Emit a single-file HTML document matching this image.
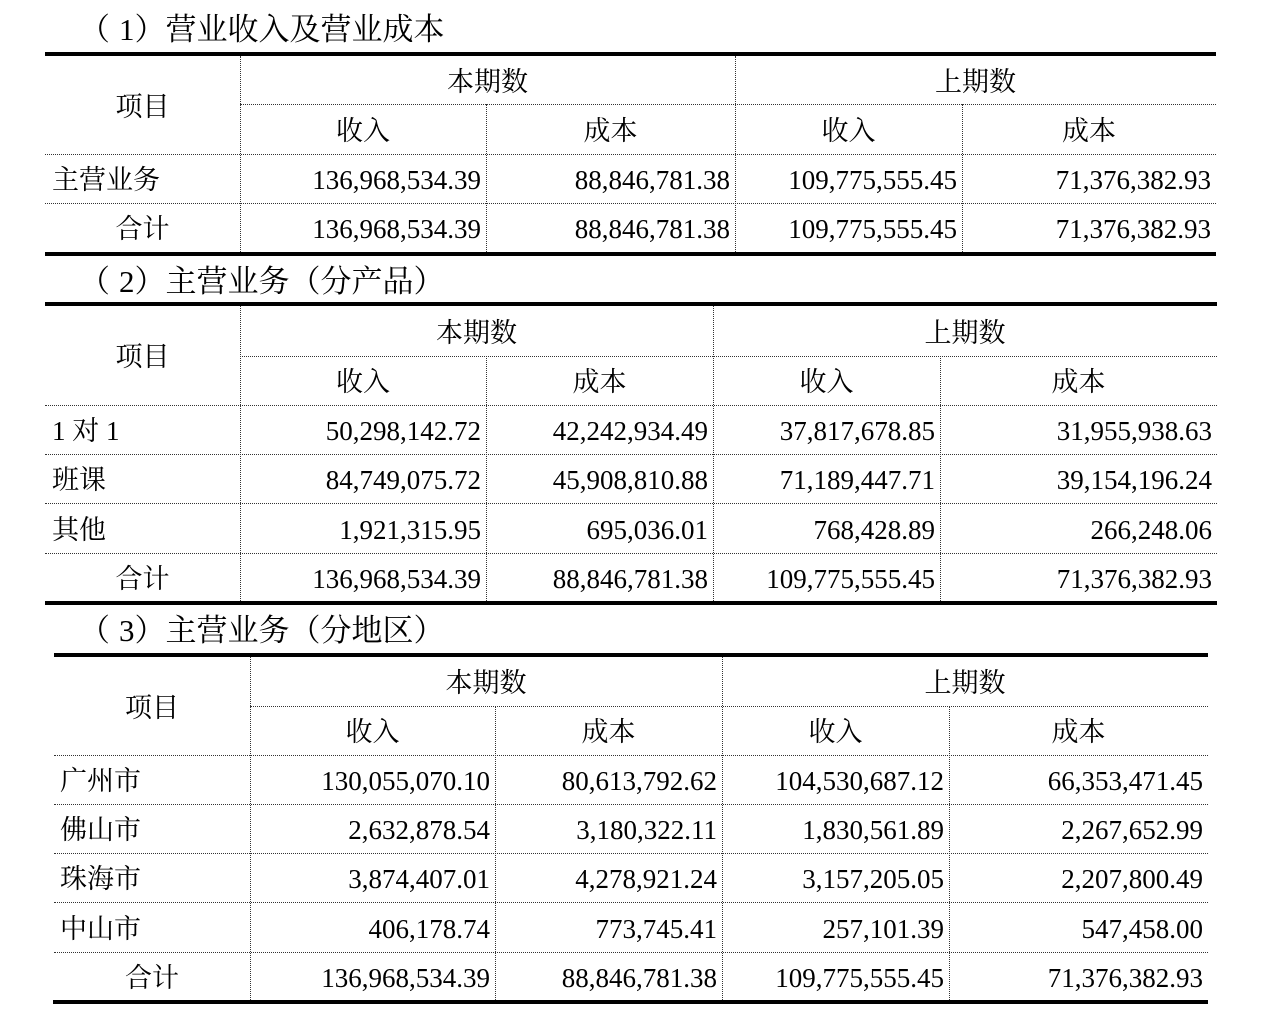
<!DOCTYPE html>
<html>
<head>
<meta charset="utf-8">
<style>
html,body{margin:0;padding:0;background:#fff;}
body{width:1268px;height:1010px;position:relative;overflow:hidden;font-family:"Liberation Serif","Noto Serif CJK SC",serif;color:#000;}
.h{position:absolute;height:0;border-top:1px dotted #333;}
.v{position:absolute;width:0;border-left:1px dotted #333;}
.t{position:absolute;background:#000;height:4px;}
.c{position:absolute;white-space:nowrap;font-size:27px;text-align:center;}
.r{text-align:right;}
.l{text-align:left;}
.ti{position:absolute;white-space:nowrap;font-size:31px;height:40px;line-height:40px;left:88px;}
.ti .p{position:relative;left:-9px;}
</style>
</head>
<body>

<!-- ========== Title 1 ========== -->
<div class="ti" style="top:10px;"><span class="p">（</span>1）营业收入及营业成本</div>

<!-- Table 1 lines -->
<div class="t" style="left:45px;width:1171px;top:52px;"></div>
<div class="t" style="left:45px;width:1171px;top:252px;"></div>
<div class="h" style="left:240px;width:976px;top:104px;"></div>
<div class="h" style="left:45px;width:1171px;top:154px;"></div>
<div class="h" style="left:45px;width:1171px;top:203px;"></div>
<div class="v" style="left:240px;top:56px;height:196px;"></div>
<div class="v" style="left:735px;top:56px;height:196px;"></div>
<div class="v" style="left:486px;top:104px;height:148px;"></div>
<div class="v" style="left:962px;top:104px;height:148px;"></div>

<!-- Table 1 text -->
<div class="c" style="left:45px;width:195px;top:58px;height:98px;line-height:98px;">项目</div>
<div class="c" style="left:240px;width:495px;top:58px;height:48px;line-height:48px;">本期数</div>
<div class="c" style="left:735px;width:481px;top:58px;height:48px;line-height:48px;">上期数</div>
<div class="c" style="left:240px;width:246px;top:106px;height:50px;line-height:50px;">收入</div>
<div class="c" style="left:486px;width:249px;top:106px;height:50px;line-height:50px;">成本</div>
<div class="c" style="left:735px;width:227px;top:106px;height:50px;line-height:50px;">收入</div>
<div class="c" style="left:962px;width:254px;top:106px;height:50px;line-height:50px;">成本</div>

<div class="c l" style="left:52px;width:180px;top:156px;height:49px;line-height:49px;">主营业务</div>
<div class="c r" style="left:240px;width:241px;top:156px;height:49px;line-height:49px;">136,968,534.39</div>
<div class="c r" style="left:486px;width:244px;top:156px;height:49px;line-height:49px;">88,846,781.38</div>
<div class="c r" style="left:735px;width:222px;top:156px;height:49px;line-height:49px;">109,775,555.45</div>
<div class="c r" style="left:962px;width:249px;top:156px;height:49px;line-height:49px;">71,376,382.93</div>

<div class="c" style="left:45px;width:195px;top:205px;height:49px;line-height:49px;">合计</div>
<div class="c r" style="left:240px;width:241px;top:205px;height:49px;line-height:49px;">136,968,534.39</div>
<div class="c r" style="left:486px;width:244px;top:205px;height:49px;line-height:49px;">88,846,781.38</div>
<div class="c r" style="left:735px;width:222px;top:205px;height:49px;line-height:49px;">109,775,555.45</div>
<div class="c r" style="left:962px;width:249px;top:205px;height:49px;line-height:49px;">71,376,382.93</div>

<!-- ========== Title 2 ========== -->
<div class="ti" style="top:262px;"><span class="p">（</span>2）主营业务（分产品）</div>

<!-- Table 2 lines -->
<div class="t" style="left:45px;width:1172px;top:302px;"></div>
<div class="t" style="left:45px;width:1172px;top:601px;"></div>
<div class="h" style="left:240px;width:977px;top:356px;"></div>
<div class="h" style="left:45px;width:1172px;top:405px;"></div>
<div class="h" style="left:45px;width:1172px;top:454px;"></div>
<div class="h" style="left:45px;width:1172px;top:503px;"></div>
<div class="h" style="left:45px;width:1172px;top:553px;"></div>
<div class="v" style="left:240px;top:306px;height:295px;"></div>
<div class="v" style="left:713px;top:306px;height:295px;"></div>
<div class="v" style="left:486px;top:356px;height:245px;"></div>
<div class="v" style="left:940px;top:356px;height:245px;"></div>

<!-- Table 2 text -->
<div class="c" style="left:45px;width:195px;top:308px;height:99px;line-height:99px;">项目</div>
<div class="c" style="left:240px;width:473px;top:308px;height:50px;line-height:50px;">本期数</div>
<div class="c" style="left:713px;width:504px;top:308px;height:50px;line-height:50px;">上期数</div>
<div class="c" style="left:240px;width:246px;top:358px;height:49px;line-height:49px;">收入</div>
<div class="c" style="left:486px;width:227px;top:358px;height:49px;line-height:49px;">成本</div>
<div class="c" style="left:713px;width:227px;top:358px;height:49px;line-height:49px;">收入</div>
<div class="c" style="left:940px;width:277px;top:358px;height:49px;line-height:49px;">成本</div>

<div class="c l" style="left:52px;width:180px;top:407px;height:49px;line-height:49px;">1 对 1</div>
<div class="c r" style="left:240px;width:241px;top:407px;height:49px;line-height:49px;">50,298,142.72</div>
<div class="c r" style="left:486px;width:222px;top:407px;height:49px;line-height:49px;">42,242,934.49</div>
<div class="c r" style="left:713px;width:222px;top:407px;height:49px;line-height:49px;">37,817,678.85</div>
<div class="c r" style="left:940px;width:272px;top:407px;height:49px;line-height:49px;">31,955,938.63</div>

<div class="c l" style="left:52px;width:180px;top:456px;height:49px;line-height:49px;">班课</div>
<div class="c r" style="left:240px;width:241px;top:456px;height:49px;line-height:49px;">84,749,075.72</div>
<div class="c r" style="left:486px;width:222px;top:456px;height:49px;line-height:49px;">45,908,810.88</div>
<div class="c r" style="left:713px;width:222px;top:456px;height:49px;line-height:49px;">71,189,447.71</div>
<div class="c r" style="left:940px;width:272px;top:456px;height:49px;line-height:49px;">39,154,196.24</div>

<div class="c l" style="left:52px;width:180px;top:505px;height:50px;line-height:50px;">其他</div>
<div class="c r" style="left:240px;width:241px;top:505px;height:50px;line-height:50px;">1,921,315.95</div>
<div class="c r" style="left:486px;width:222px;top:505px;height:50px;line-height:50px;">695,036.01</div>
<div class="c r" style="left:713px;width:222px;top:505px;height:50px;line-height:50px;">768,428.89</div>
<div class="c r" style="left:940px;width:272px;top:505px;height:50px;line-height:50px;">266,248.06</div>

<div class="c" style="left:45px;width:195px;top:555px;height:48px;line-height:48px;">合计</div>
<div class="c r" style="left:240px;width:241px;top:555px;height:48px;line-height:48px;">136,968,534.39</div>
<div class="c r" style="left:486px;width:222px;top:555px;height:48px;line-height:48px;">88,846,781.38</div>
<div class="c r" style="left:713px;width:222px;top:555px;height:48px;line-height:48px;">109,775,555.45</div>
<div class="c r" style="left:940px;width:272px;top:555px;height:48px;line-height:48px;">71,376,382.93</div>

<!-- ========== Title 3 ========== -->
<div class="ti" style="top:611px;"><span class="p">（</span>3）主营业务（分地区）</div>

<!-- Table 3 lines -->
<div class="t" style="left:54px;width:1154px;top:653px;"></div>
<div class="t" style="left:53px;width:1155px;top:1000px;"></div>
<div class="h" style="left:250px;width:958px;top:706px;"></div>
<div class="h" style="left:54px;width:1154px;top:755px;"></div>
<div class="h" style="left:54px;width:1154px;top:804px;"></div>
<div class="h" style="left:54px;width:1154px;top:853px;"></div>
<div class="h" style="left:54px;width:1154px;top:902px;"></div>
<div class="h" style="left:54px;width:1154px;top:952px;"></div>
<div class="v" style="left:250px;top:657px;height:343px;"></div>
<div class="v" style="left:722px;top:657px;height:343px;"></div>
<div class="v" style="left:495px;top:706px;height:294px;"></div>
<div class="v" style="left:949px;top:706px;height:294px;"></div>

<!-- Table 3 text -->
<div class="c" style="left:54px;width:196px;top:659px;height:98px;line-height:98px;">项目</div>
<div class="c" style="left:250px;width:472px;top:659px;height:49px;line-height:49px;">本期数</div>
<div class="c" style="left:722px;width:486px;top:659px;height:49px;line-height:49px;">上期数</div>
<div class="c" style="left:250px;width:245px;top:708px;height:49px;line-height:49px;">收入</div>
<div class="c" style="left:495px;width:227px;top:708px;height:49px;line-height:49px;">成本</div>
<div class="c" style="left:722px;width:227px;top:708px;height:49px;line-height:49px;">收入</div>
<div class="c" style="left:949px;width:259px;top:708px;height:49px;line-height:49px;">成本</div>

<div class="c l" style="left:60px;width:180px;top:757px;height:49px;line-height:49px;">广州市</div>
<div class="c r" style="left:250px;width:240px;top:757px;height:49px;line-height:49px;">130,055,070.10</div>
<div class="c r" style="left:495px;width:222px;top:757px;height:49px;line-height:49px;">80,613,792.62</div>
<div class="c r" style="left:722px;width:222px;top:757px;height:49px;line-height:49px;">104,530,687.12</div>
<div class="c r" style="left:949px;width:254px;top:757px;height:49px;line-height:49px;">66,353,471.45</div>

<div class="c l" style="left:60px;width:180px;top:806px;height:49px;line-height:49px;">佛山市</div>
<div class="c r" style="left:250px;width:240px;top:806px;height:49px;line-height:49px;">2,632,878.54</div>
<div class="c r" style="left:495px;width:222px;top:806px;height:49px;line-height:49px;">3,180,322.11</div>
<div class="c r" style="left:722px;width:222px;top:806px;height:49px;line-height:49px;">1,830,561.89</div>
<div class="c r" style="left:949px;width:254px;top:806px;height:49px;line-height:49px;">2,267,652.99</div>

<div class="c l" style="left:60px;width:180px;top:855px;height:49px;line-height:49px;">珠海市</div>
<div class="c r" style="left:250px;width:240px;top:855px;height:49px;line-height:49px;">3,874,407.01</div>
<div class="c r" style="left:495px;width:222px;top:855px;height:49px;line-height:49px;">4,278,921.24</div>
<div class="c r" style="left:722px;width:222px;top:855px;height:49px;line-height:49px;">3,157,205.05</div>
<div class="c r" style="left:949px;width:254px;top:855px;height:49px;line-height:49px;">2,207,800.49</div>

<div class="c l" style="left:60px;width:180px;top:904px;height:50px;line-height:50px;">中山市</div>
<div class="c r" style="left:250px;width:240px;top:904px;height:50px;line-height:50px;">406,178.74</div>
<div class="c r" style="left:495px;width:222px;top:904px;height:50px;line-height:50px;">773,745.41</div>
<div class="c r" style="left:722px;width:222px;top:904px;height:50px;line-height:50px;">257,101.39</div>
<div class="c r" style="left:949px;width:254px;top:904px;height:50px;line-height:50px;">547,458.00</div>

<div class="c" style="left:54px;width:196px;top:954px;height:48px;line-height:48px;">合计</div>
<div class="c r" style="left:250px;width:240px;top:954px;height:48px;line-height:48px;">136,968,534.39</div>
<div class="c r" style="left:495px;width:222px;top:954px;height:48px;line-height:48px;">88,846,781.38</div>
<div class="c r" style="left:722px;width:222px;top:954px;height:48px;line-height:48px;">109,775,555.45</div>
<div class="c r" style="left:949px;width:254px;top:954px;height:48px;line-height:48px;">71,376,382.93</div>

</body>
</html>
